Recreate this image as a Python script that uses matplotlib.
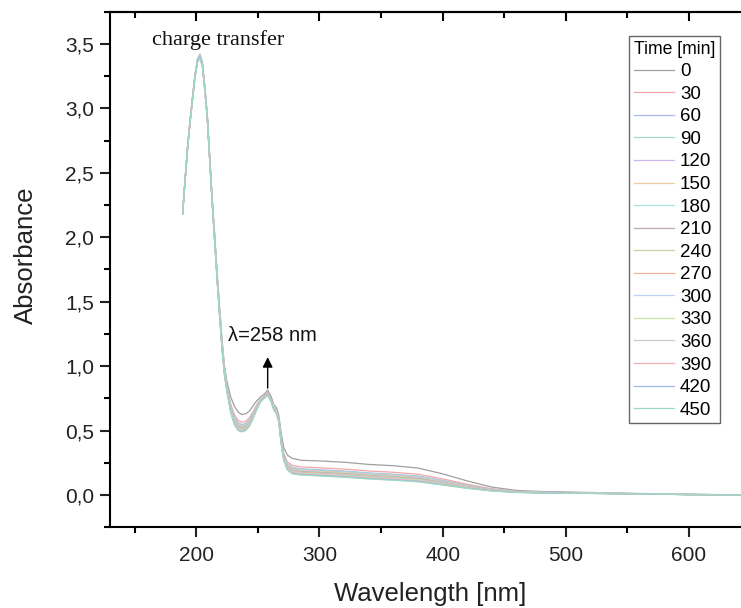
import matplotlib
matplotlib.use("Agg")
import matplotlib.pyplot as plt
from matplotlib.ticker import MultipleLocator, FixedLocator

plt.rcParams['font.family'] = ['Liberation Sans', 'DejaVu Sans']

# Wavelength grid [nm]
wavelength = [189, 191, 193, 195, 197, 199, 201, 203, 205, 207, 209, 211, 213, 215, 217,
              219, 221, 223, 225, 228, 231, 234, 237, 240, 243, 246, 249, 252, 255, 258,
              261, 263, 265, 267, 269, 271, 274, 278, 285, 300, 320, 340, 360, 380, 400,
              420, 440, 460, 480, 500, 550, 600, 645]

# Absorbance spectra for each irradiation time
abs_000 = [2.19, 2.45, 2.70, 2.90, 3.08, 3.26, 3.38, 3.42, 3.36, 3.17, 2.95, 2.62, 2.30, 2.02, 1.72, 1.45, 1.20, 1.00,
           0.880, 0.760, 0.690, 0.645, 0.625, 0.630, 0.650, 0.690, 0.730, 0.760, 0.780, 0.815,
           0.760, 0.700, 0.680, 0.620, 0.480, 0.370, 0.310, 0.285,
           0.270, 0.265, 0.255, 0.238, 0.228, 0.210, 0.165, 0.110, 0.062, 0.036, 0.028, 0.024, 0.014, 0.006, 0.002]
abs_030 = [2.20, 2.46, 2.71, 2.91, 3.09, 3.26, 3.38, 3.41, 3.35, 3.16, 2.94, 2.61, 2.29, 2.01, 1.71, 1.44, 1.18, 0.98,
           0.844, 0.706, 0.625, 0.580, 0.564, 0.572, 0.596, 0.645, 0.699, 0.742, 0.767, 0.797,
           0.742, 0.682, 0.660, 0.598, 0.444, 0.325, 0.258, 0.231,
           0.218, 0.212, 0.202, 0.187, 0.177, 0.162, 0.126, 0.084, 0.049, 0.029, 0.023, 0.020, 0.012, 0.005, 0.002]
abs_060 = [2.19, 2.45, 2.70, 2.90, 3.08, 3.25, 3.37, 3.41, 3.35, 3.16, 2.94, 2.61, 2.29, 2.00, 1.70, 1.43, 1.17, 0.97,
           0.834, 0.690, 0.606, 0.561, 0.547, 0.555, 0.580, 0.632, 0.689, 0.737, 0.763, 0.792,
           0.737, 0.677, 0.654, 0.591, 0.434, 0.312, 0.243, 0.215,
           0.203, 0.197, 0.187, 0.172, 0.162, 0.148, 0.115, 0.076, 0.045, 0.027, 0.022, 0.019, 0.012, 0.005, 0.001]
abs_090 = [2.18, 2.44, 2.69, 2.89, 3.07, 3.25, 3.37, 3.40, 3.34, 3.15, 2.93, 2.60, 2.28, 2.00, 1.70, 1.43, 1.17, 0.97,
           0.830, 0.686, 0.600, 0.555, 0.541, 0.549, 0.576, 0.628, 0.687, 0.735, 0.761, 0.790,
           0.735, 0.675, 0.652, 0.589, 0.430, 0.308, 0.239, 0.211,
           0.199, 0.192, 0.182, 0.168, 0.158, 0.144, 0.111, 0.074, 0.043, 0.027, 0.021, 0.018, 0.012, 0.005, 0.001]
abs_120 = [2.19, 2.45, 2.70, 2.90, 3.08, 3.25, 3.37, 3.40, 3.34, 3.15, 2.93, 2.60, 2.28, 1.99, 1.69, 1.42, 1.16, 0.96,
           0.826, 0.680, 0.593, 0.548, 0.535, 0.543, 0.570, 0.623, 0.683, 0.733, 0.760, 0.788,
           0.733, 0.673, 0.650, 0.587, 0.426, 0.303, 0.233, 0.205,
           0.193, 0.187, 0.177, 0.162, 0.152, 0.138, 0.107, 0.071, 0.042, 0.026, 0.021, 0.018, 0.011, 0.005, 0.001]
abs_150 = [2.18, 2.44, 2.69, 2.89, 3.07, 3.24, 3.36, 3.40, 3.34, 3.15, 2.93, 2.60, 2.28, 1.99, 1.69, 1.42, 1.16, 0.96,
           0.824, 0.676, 0.589, 0.544, 0.531, 0.539, 0.566, 0.620, 0.681, 0.732, 0.759, 0.787,
           0.732, 0.672, 0.649, 0.585, 0.424, 0.300, 0.230, 0.201,
           0.190, 0.183, 0.173, 0.159, 0.149, 0.135, 0.104, 0.069, 0.041, 0.026, 0.020, 0.018, 0.011, 0.005, 0.001]
abs_180 = [2.19, 2.45, 2.70, 2.90, 3.08, 3.25, 3.37, 3.41, 3.35, 3.16, 2.94, 2.61, 2.28, 1.99, 1.69, 1.42, 1.16, 0.96,
           0.821, 0.671, 0.583, 0.538, 0.525, 0.534, 0.561, 0.616, 0.678, 0.730, 0.758, 0.785,
           0.730, 0.670, 0.647, 0.583, 0.421, 0.296, 0.225, 0.196,
           0.185, 0.178, 0.168, 0.154, 0.144, 0.131, 0.101, 0.067, 0.040, 0.025, 0.020, 0.017, 0.011, 0.005, 0.001]
abs_210 = [2.18, 2.44, 2.69, 2.89, 3.07, 3.24, 3.36, 3.39, 3.33, 3.14, 2.92, 2.59, 2.27, 1.98, 1.68, 1.41, 1.15, 0.95,
           0.818, 0.668, 0.578, 0.533, 0.521, 0.530, 0.558, 0.613, 0.676, 0.729, 0.757, 0.784,
           0.729, 0.669, 0.645, 0.582, 0.418, 0.293, 0.221, 0.193,
           0.181, 0.175, 0.165, 0.151, 0.141, 0.128, 0.098, 0.065, 0.039, 0.024, 0.020, 0.017, 0.011, 0.004, 0.001]
abs_240 = [2.19, 2.45, 2.70, 2.90, 3.08, 3.25, 3.37, 3.40, 3.34, 3.15, 2.93, 2.60, 2.27, 1.98, 1.68, 1.41, 1.15, 0.95,
           0.816, 0.664, 0.574, 0.529, 0.517, 0.526, 0.554, 0.610, 0.674, 0.728, 0.756, 0.783,
           0.728, 0.668, 0.644, 0.580, 0.416, 0.290, 0.218, 0.189,
           0.178, 0.171, 0.161, 0.148, 0.138, 0.124, 0.095, 0.064, 0.038, 0.024, 0.019, 0.017, 0.011, 0.004, 0.001]
abs_270 = [2.18, 2.44, 2.69, 2.89, 3.07, 3.24, 3.36, 3.39, 3.33, 3.14, 2.92, 2.59, 2.27, 1.98, 1.68, 1.41, 1.15, 0.95,
           0.814, 0.660, 0.570, 0.525, 0.513, 0.522, 0.550, 0.607, 0.672, 0.727, 0.755, 0.782,
           0.727, 0.667, 0.643, 0.579, 0.414, 0.287, 0.215, 0.185,
           0.175, 0.168, 0.158, 0.144, 0.134, 0.121, 0.093, 0.062, 0.037, 0.024, 0.019, 0.017, 0.011, 0.004, 0.001]
abs_300 = [2.19, 2.45, 2.70, 2.90, 3.08, 3.25, 3.37, 3.40, 3.34, 3.15, 2.93, 2.60, 2.27, 1.98, 1.68, 1.40, 1.14, 0.94,
           0.811, 0.657, 0.565, 0.520, 0.509, 0.518, 0.547, 0.604, 0.670, 0.726, 0.754, 0.781,
           0.726, 0.666, 0.641, 0.577, 0.411, 0.284, 0.211, 0.182,
           0.171, 0.164, 0.154, 0.141, 0.131, 0.118, 0.090, 0.060, 0.036, 0.023, 0.019, 0.016, 0.011, 0.004, 0.001]
abs_330 = [2.18, 2.44, 2.69, 2.89, 3.07, 3.24, 3.36, 3.39, 3.33, 3.14, 2.92, 2.59, 2.26, 1.97, 1.67, 1.40, 1.14, 0.94,
           0.809, 0.653, 0.561, 0.516, 0.505, 0.514, 0.543, 0.601, 0.668, 0.724, 0.753, 0.779,
           0.724, 0.664, 0.640, 0.576, 0.409, 0.281, 0.208, 0.178,
           0.168, 0.161, 0.151, 0.137, 0.127, 0.115, 0.088, 0.058, 0.035, 0.023, 0.018, 0.016, 0.010, 0.004, 0.001]
abs_360 = [2.19, 2.45, 2.70, 2.90, 3.08, 3.25, 3.37, 3.40, 3.34, 3.15, 2.93, 2.60, 2.26, 1.97, 1.67, 1.40, 1.14, 0.94,
           0.806, 0.650, 0.557, 0.512, 0.501, 0.510, 0.540, 0.598, 0.666, 0.723, 0.752, 0.778,
           0.723, 0.663, 0.639, 0.574, 0.406, 0.278, 0.204, 0.175,
           0.164, 0.157, 0.147, 0.134, 0.124, 0.112, 0.085, 0.057, 0.034, 0.022, 0.018, 0.016, 0.010, 0.004, 0.001]
abs_390 = [2.18, 2.44, 2.69, 2.89, 3.07, 3.24, 3.36, 3.39, 3.33, 3.14, 2.92, 2.59, 2.26, 1.97, 1.67, 1.39, 1.13, 0.93,
           0.805, 0.647, 0.554, 0.509, 0.498, 0.508, 0.537, 0.596, 0.664, 0.722, 0.752, 0.777,
           0.722, 0.662, 0.638, 0.573, 0.405, 0.276, 0.202, 0.172,
           0.162, 0.155, 0.145, 0.132, 0.122, 0.109, 0.083, 0.055, 0.034, 0.022, 0.018, 0.016, 0.010, 0.004, 0.001]
abs_420 = [2.19, 2.45, 2.70, 2.90, 3.08, 3.25, 3.37, 3.40, 3.34, 3.15, 2.93, 2.60, 2.26, 1.97, 1.67, 1.39, 1.13, 0.93,
           0.802, 0.644, 0.549, 0.504, 0.494, 0.504, 0.534, 0.593, 0.662, 0.721, 0.751, 0.776,
           0.721, 0.661, 0.636, 0.572, 0.402, 0.273, 0.198, 0.169,
           0.158, 0.152, 0.142, 0.128, 0.118, 0.106, 0.081, 0.054, 0.033, 0.021, 0.017, 0.015, 0.010, 0.004, 0.001]
abs_450 = [2.18, 2.44, 2.69, 2.89, 3.07, 3.24, 3.36, 3.39, 3.33, 3.14, 2.92, 2.59, 2.26, 1.96, 1.66, 1.39, 1.13, 0.93,
           0.800, 0.640, 0.545, 0.500, 0.490, 0.500, 0.530, 0.590, 0.660, 0.720, 0.750, 0.775,
           0.720, 0.660, 0.635, 0.570, 0.400, 0.270, 0.195, 0.165,
           0.155, 0.148, 0.138, 0.125, 0.115, 0.103, 0.078, 0.052, 0.032, 0.021, 0.017, 0.015, 0.010, 0.004, 0.001]

times = ['0', '30', '60', '90', '120', '150', '180', '210', '240', '270',
         '300', '330', '360', '390', '420', '450']
spectra = [abs_000, abs_030, abs_060, abs_090, abs_120, abs_150, abs_180, abs_210,
           abs_240, abs_270, abs_300, abs_330, abs_360, abs_390, abs_420, abs_450]
colors = ['#a0a0a0', '#f4a6a6', '#a6bde9', '#a6dcc6', '#cdb8ec', '#ebcfa0', '#a6e3e3', '#bba7b6',
          '#cfcfa6', '#f2b09a', '#bcd4f2', '#c6e4a8', '#cbcbcb', '#f3aeb0', '#9fb6ec', '#9edcc0']

ytick_values = [0.0, 0.5, 1.0, 1.5, 2.0, 2.5, 3.0, 3.5]
ytick_labels = ['0,0', '0,5', '1,0', '1,5', '2,0', '2,5', '3,0', '3,5']
xtick_values = [200, 300, 400, 500, 600]

peak_label = 'λ=258 nm'
peak_wl = 258
peak_abs = 0.83

fig = plt.figure(figsize=(7.41, 6.08), dpi=100)
ax = fig.add_axes([0.1484, 0.1327, 0.8646, 0.8481])

for spec, t, c in zip(spectra, times, colors):
    ax.plot(wavelength, spec, color=c, lw=0.9, label=t)

ax.set_xlim(130, 650)
ax.set_ylim(-0.25, 3.75)

ax.yaxis.set_major_locator(FixedLocator(ytick_values))
ax.set_yticklabels(ytick_labels)
ax.yaxis.set_minor_locator(MultipleLocator(0.25))
ax.xaxis.set_major_locator(FixedLocator(xtick_values))
ax.xaxis.set_minor_locator(MultipleLocator(50))

for s in ['left', 'bottom', 'top', 'right']:
    ax.spines[s].set_linewidth(1.5)
ax.tick_params(axis='both', which='major', direction='out', length=7.5, width=1.5,
               labelsize=15, colors='#222222')
ax.tick_params(axis='y', which='major', pad=4)
ax.tick_params(axis='x', which='major', pad=6)
ax.tick_params(axis='both', which='minor', direction='out', length=4.2, width=1.5)
ax.tick_params(axis='x', which='both', top=False)

# top axis: inward ticks, no labels
top = ax.secondary_xaxis('top')
top.xaxis.set_major_locator(FixedLocator(xtick_values))
top.xaxis.set_minor_locator(MultipleLocator(50))
top.tick_params(which='major', direction='in', length=6.5, width=1.5, labeltop=False)
top.tick_params(which='minor', direction='in', length=4.0, width=1.5)
top.spines['top'].set_linewidth(1.5)

ax.set_xlabel('Wavelength [nm]', fontsize=18.5, labelpad=12, color='#222222')
ax.set_ylabel('Absorbance', fontsize=18.5, color='#222222')
ax.yaxis.set_label_coords(-0.1125, 0.528)

ax.text(164, 3.53, 'charge transfer', family=['Liberation Serif', 'DejaVu Serif'],
        fontsize=16, va='center', ha='left', color='#111111')

ax.annotate('', xy=(peak_wl, 1.07), xytext=(peak_wl, peak_abs),
            arrowprops=dict(arrowstyle='-|>', color='black', lw=1.0, mutation_scale=15,
                            shrinkA=0, shrinkB=0))
ax.text(225.5, 1.236, peak_label, fontsize=14.5, va='center', ha='left', color='#111111')

leg = ax.legend(title='Time [min]', loc='upper right', bbox_to_anchor=(720 / 741, 1 - 36 / 608),
                bbox_transform=fig.transFigure, fontsize=13.5, title_fontsize=12.7,
                frameon=True, fancybox=False, edgecolor='#666666', framealpha=1,
                handlelength=2.13, handletextpad=0.32, labelspacing=0.29, borderpad=0.25,
                borderaxespad=0)
leg.get_frame().set_linewidth(1.0)
leg._legend_box.align = 'left'

fig.savefig('out.png', dpi=100)
